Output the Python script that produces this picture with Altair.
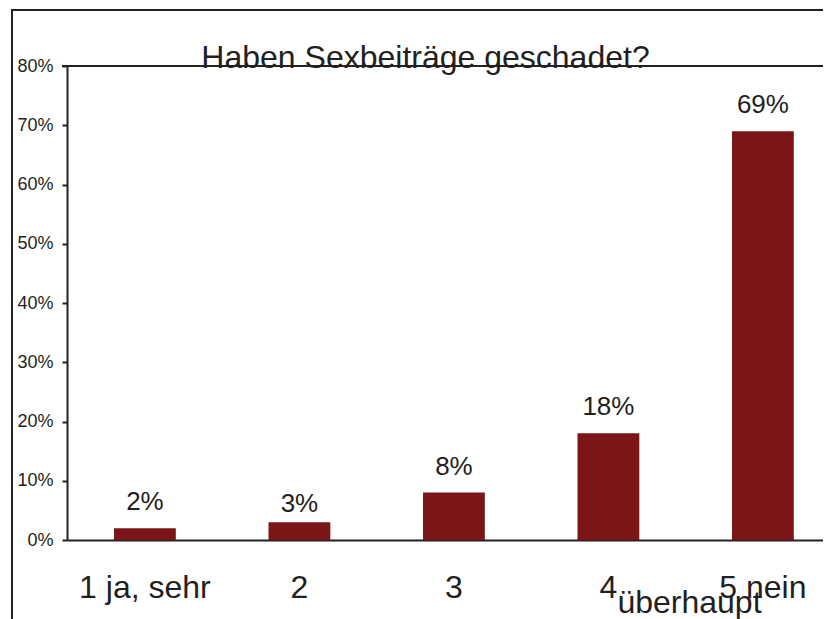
import altair as alt
import pandas as pd

categories = ["1 ja, sehr", "2", "3", "4", "5 nein"]
values = [2, 3, 8, 18, 69]
labels = ["2%", "3%", "8%", "18%", "69%"]
title_text = "Haben Sexbeiträge geschadet?"
extra_label = "überhaupt"
y_ticks = [0, 10, 20, 30, 40, 50, 60, 70, 80]

df = pd.DataFrame({"cat": categories, "val": values, "lab": labels})

FONT = "Liberation Sans"
TXT = "#231f20"
BAR = "#7c1518"

x_enc = alt.X(
    "cat:N",
    sort=categories,
    scale=alt.Scale(paddingInner=0.6, paddingOuter=0.2466, align=0.617),
    axis=alt.Axis(
        title=None, ticks=False, labelAngle=0, labelFontSize=32,
        labelFont=FONT, labelColor=TXT, labelBaseline="alphabetic",
        labelPadding=57, domainColor="#222", domainWidth=2,
    ),
)
y_enc = alt.Y(
    "val:Q",
    scale=alt.Scale(domain=[0, 80], nice=False),
    axis=alt.Axis(
        title=None, values=y_ticks, labelExpr="datum.value + '%'",
        labelFontSize=18, labelFont=FONT, labelColor=TXT, labelPadding=9,
        tickSize=5, tickWidth=2, tickColor="#222", domainColor="#222",
        domainWidth=2, grid=False,
    ),
)

base = alt.Chart(df)
bars = base.mark_bar(color=BAR).encode(x=x_enc, y=y_enc)

text_main = base.transform_filter(alt.datum.cat != "2").mark_text(
    font=FONT, fontSize=26, color=TXT, baseline="alphabetic", dy=-18
).encode(x=alt.X("cat:N", sort=categories), y="val:Q", text="lab:N")
text_two = base.transform_filter(alt.datum.cat == "2").mark_text(
    font=FONT, fontSize=26, color=TXT, baseline="alphabetic", dy=-10
).encode(x=alt.X("cat:N", sort=categories), y="val:Q", text="lab:N")

extra = alt.Chart(pd.DataFrame({"cat": ["4"], "t": [extra_label]})).mark_text(
    font=FONT, fontSize=32, color=TXT, baseline="alphabetic", align="left", dx=9
).encode(x=alt.X("cat:N", sort=categories), y=alt.value(547), text="t:N")

title = alt.Chart(pd.DataFrame({"t": [title_text]})).mark_text(
    font=FONT, fontSize=32, color=TXT, baseline="alphabetic", align="center"
).encode(x=alt.value(358.5), y=alt.value(2), text="t:N")

one = pd.DataFrame({"k": [0]})
frame_left = alt.Chart(one).mark_rule(stroke="#222", strokeWidth=2).encode(
    x=alt.value(-55), y=alt.value(-57), y2=alt.value(700)
)
frame_top = alt.Chart(one).mark_rule(stroke="#222", strokeWidth=2).encode(
    x=alt.value(-56), x2=alt.value(900), y=alt.value(-56)
)
top_line = alt.Chart(one).mark_rule(stroke="#222", strokeWidth=2).encode(
    x=alt.value(-5), x2=alt.value(900), y=alt.value(0)
)

chart = alt.layer(
    frame_left, frame_top, top_line, bars, text_main, text_two, extra, title
).properties(
    width=756, height=474,
    autosize=alt.AutoSizeParams(type="none"),
    padding={"left": 59, "top": 58, "right": 0, "bottom": 79},
    background="white",
).configure_view(strokeWidth=0)

chart.save("out.html", embed_options={"renderer": "svg", "actions": False})
